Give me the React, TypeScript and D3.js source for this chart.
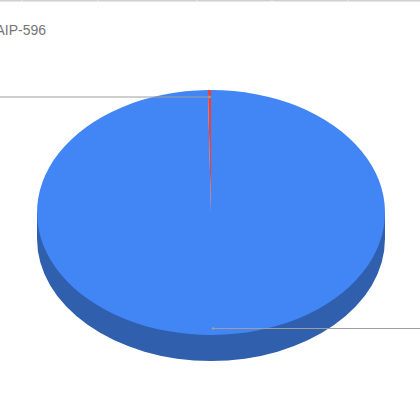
import React from "react";
import * as d3 from "d3";

const categories = ["Other", "AIP-596"];
const seriesValues = [99.72, 0.28];
const colors = ["#4285f4", "#ea4335"];
const titleText = "AIP-596";

const cx = 211;
const cy = 212.5;
const rx = 174;
const ry = 122.5;
const depth = 26;
const gridTicks = [22, 98, 197, 272, 348];

export default function App() {
  const pie = d3
    .pie<number>()
    .sort(null)
    .startAngle(0)
    .endAngle(2 * Math.PI);
  const arcs = pie(seriesValues);
  const arc = d3.arc<d3.PieArcDatum<number>>().innerRadius(0).outerRadius(rx);
  const scaleY = ry / rx;

  const sideD = `M${cx - rx},${cy}L${cx - rx},${cy + depth}A${rx},${ry} 0 0 0 ${cx + rx},${cy + depth}L${cx + rx},${cy}Z`;

  const leaderTop = 97;
  const leaderBottom = 328.5;

  return (
    <svg
      width={420}
      height={420}
      style={{ position: "fixed", left: 0, top: 0, background: "#fff" }}
    >
      <line x1={0} x2={420} y1={0.75} y2={0.75} stroke="#cfcfcf" strokeWidth={1.5} />
      {gridTicks.map((x) => (
        <line key={x} x1={x} x2={x} y1={0} y2={1} stroke="#ececec" />
      ))}
      <text
        x={46}
        y={34.5}
        textAnchor="end"
        fontFamily="Liberation Sans"
        fontSize={14}
        fill="#757575"
      >
        {titleText}
      </text>
      <path d={sideD} fill="#2f5fad" />
      <g transform={`translate(${cx},${cy}) scale(1,${scaleY})`}>
        {arcs.map((a, i) => (
          <path key={categories[i]} d={arc(a) ?? ""} fill={colors[i]} />
        ))}
      </g>
      <line x1={0} x2={209} y1={leaderTop} y2={leaderTop} stroke="#9e9e9e" strokeWidth={1} />
      <circle cx={209.5} cy={leaderTop} r={1.3} fill="#9e9e9e" />
      <line x1={213} x2={420} y1={leaderBottom} y2={leaderBottom} stroke="#9e9e9e" strokeWidth={1} />
      <circle cx={213} cy={leaderBottom} r={1.3} fill="#9e9e9e" />
    </svg>
  );
}
